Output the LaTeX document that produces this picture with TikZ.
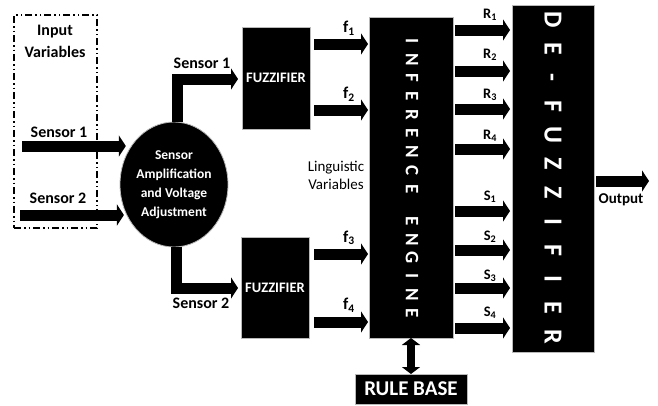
\documentclass[tikz,border=0pt]{standalone}
\usepackage{fontspec}
\setmainfont{Carlito}
\usetikzlibrary{arrows.meta,calc,shapes.geometric}
\newcommand\lbox[2]{\makebox[#1]{#2}}
\begin{document}
\begin{tikzpicture}[x=1pt,y=-1pt,
  blk/.style={draw=gray!55, line width=0.8pt, fill=black, text=white, inner sep=0pt, outer sep=0pt},
  barrow/.style={line width=11pt, -{Triangle[length=7pt,width=21pt]}},
  elbow/.style={line width=11pt, line join=miter, -{Triangle[length=7pt,width=21pt]}},
  dblarrow/.style={line width=8pt, {Triangle[length=7pt,width=18pt]}-{Triangle[length=7pt,width=18pt]}},
  bigtxt/.style={font=\bfseries\fontsize{16}{22}\selectfont, inner sep=0pt, align=center},
  ftxt/.style={font=\bfseries\fontsize{16.5}{18}\selectfont, inner sep=0pt},
  subtxt/.style={font=\bfseries\fontsize{14.5}{16}\selectfont, inner sep=0pt},
  boxtxt/.style={font=\bfseries\fontsize{13.5}{19}\selectfont, text=white, inner sep=0pt, align=center},
  fzfont/.style={font=\bfseries\fontsize{14.5}{16}\selectfont},
  vtxt/.style={rotate=-90, text=white, inner sep=0pt}]

\useasboundingbox (0,0) rectangle (658,405);

% input frame
\node[draw, line width=1.1pt, dash pattern=on 7pt off 3pt on 1.5pt off 3pt on 1.5pt off 3pt,
      minimum width=83pt, minimum height=213pt, inner sep=0pt] (inbox) at (55.5,121.5) {};
\node[bigtxt] (intitle) at (55,41) {Input\\Variables};

% blocks
\node[blk, ellipse, minimum width=108pt, minimum height=125pt] (amp) at (174,184.5) {};
\node[boxtxt] (amptxt) at (amp.center) {Sensor\\Amplification\\and Voltage\\Adjustment};
\node[blk, fzfont, minimum width=68pt, minimum height=102pt] (fz1) at (276,78) {FUZZIFIER};
\node[blk, fzfont, minimum width=68pt, minimum height=101pt] (fz2) at (275,287.5) {FUZZIFIER};
\node[blk, minimum width=84pt, minimum height=321pt] (ie) at (411,177.5) {};
\node[blk, minimum width=82pt, minimum height=347pt] (de) at (553,178.5) {};
\node[blk, minimum width=112pt, minimum height=30pt, font=\bfseries\fontsize{21}{23}\selectfont] (rb) at (411,389) {RULE BASE};

\node[vtxt, font=\bfseries\fontsize{19}{20}\selectfont] (ietxt) at (412,177) {%
  \lbox{18.5pt}{I}\lbox{18.5pt}{N}\lbox{18.5pt}{F}\lbox{18.5pt}{E}\lbox{18.5pt}{R}\lbox{18.5pt}{E}\lbox{18.5pt}{N}\lbox{18.5pt}{C}\lbox{18.5pt}{E}%
  \hspace{13.5pt}%
  \lbox{18.5pt}{E}\lbox{18.5pt}{N}\lbox{18.5pt}{G}\lbox{18.5pt}{I}\lbox{18.5pt}{N}\lbox{18.5pt}{E}};
\node[vtxt, font=\bfseries\fontsize{26}{28}\selectfont] (detxt) at (553,178.5) {%
  \lbox{28.8pt}{D}\lbox{28.8pt}{E}\lbox{28.8pt}{-}\lbox{28.8pt}{F}\lbox{28.8pt}{U}\lbox{28.8pt}{Z}%
  \lbox{28.8pt}{Z}\lbox{28.8pt}{I}\lbox{28.8pt}{F}\lbox{28.8pt}{I}\lbox{28.8pt}{E}\lbox{28.8pt}{R}};

% sensor inputs
\coordinate (s1in) at (22,146);
\coordinate (s2in) at (20,215);
\draw[barrow] (s1in) -- ([xshift=-5pt]amp.139 |- s1in);
\draw[barrow] (s2in) -- ([xshift=-3pt]amp.213 |- s2in);
\node[bigtxt] (s1lbl) at (59,132) {Sensor 1};
\node[bigtxt] (s2lbl) at (58,198) {Sensor 2};

% amplifier outputs to the fuzzifiers
\draw[elbow] ([xshift=3pt]amp.north) -- ([xshift=3pt]amp.north |- 0,79) -- ([xshift=-4pt]fz1.west |- 0,79);
\draw[elbow] ([xshift=2pt]amp.south) -- ([xshift=2pt]amp.south |- 0,288) -- ([xshift=-3pt]fz2.west |- 0,288);
\node[bigtxt] (s1out) at (202,63) {Sensor 1};
\node[bigtxt] (s2out) at (201,303) {Sensor 2};

% fuzzy sets into the inference engine
\foreach \y/\n/\t in {44/1/28, 110/2/94, 254/3/238, 322/4/305}{
  \draw[barrow] ([xshift=4pt]fz1.east |- 0,\y) -- ([xshift=-1pt]ie.west |- 0,\y);
  \node[ftxt] (f\n) at (349,\t) {f\textsubscript{\n}};
}
\node[font=\fontsize{15}{18}\selectfont, align=center, inner sep=0pt] (ling) at (336,175.5) {Linguistic\\Variables};

% rule strengths into the defuzzifier
\foreach \y/\n/\t in {30/1/15, 71/2/55, 109/3/95, 149/4/136}{
  \draw[barrow] ([xshift=2pt]ie.east |- 0,\y) -- ([xshift=-2pt]de.west |- 0,\y);
  \node[subtxt] (r\n) at (490,\t) {R\textsubscript{\n}};
}
\foreach \y/\n/\t in {211/1/197, 250/2/237, 288/3/276, 328/4/313}{
  \draw[barrow] ([xshift=2pt]ie.east |- 0,\y) -- ([xshift=-2pt]de.west |- 0,\y);
  \node[subtxt] (s\n) at (490,\t) {S\textsubscript{\n}};
}

% rule base link and output
\draw[dblarrow] (ie.south) -- (rb.north);
\coordinate (outend) at (649,181);
\draw[barrow] ([xshift=2pt]de.east |- outend) -- (outend);
\node[font=\bfseries\fontsize{15}{17}\selectfont, inner sep=0pt] (outlbl) at (621,200) {Output};
\end{tikzpicture}
\end{document}
